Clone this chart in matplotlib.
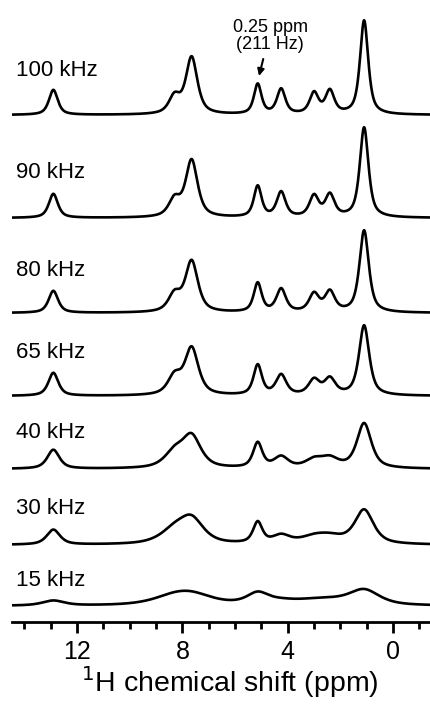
import numpy as np
import matplotlib.pyplot as plt

plt.rcParams['font.family'] = ['Liberation Sans', 'DejaVu Sans']

# spinning rates, top to bottom
labels = ['100 kHz', '90 kHz', '80 kHz', '65 kHz', '40 kHz', '30 kHz', '15 kHz']

# peak centres (ppm)
centres = [12.9, 8.3, 7.65, 5.14, 4.25, 3.0, 2.4, 1.1]

# peak amplitudes (arb. units) for each trace
h100 = [25, 17, 57, 30, 25, 21, 23, 94]
h90 = [24, 17, 57, 31, 25, 21, 22, 90]
h80 = [22, 17, 51, 29, 23, 18, 20, 82]
h65 = [23, 18, 47, 30, 20, 15, 16, 70]
h40 = [19, 15, 31, 25, 11, 8, 9, 45]
h30 = [15, 13, 23, 21, 8, 6, 6, 34]
h15 = [5, 7, 9, 11, 3, 3, 3, 15]

# line widths (FWHM, ppm) for each trace
w100 = [0.40, 0.50, 0.52, 0.34, 0.38, 0.40, 0.40, 0.37]
w90 = [0.41, 0.52, 0.54, 0.35, 0.40, 0.42, 0.42, 0.39]
w80 = [0.43, 0.55, 0.57, 0.36, 0.43, 0.45, 0.45, 0.42]
w65 = [0.45, 0.60, 0.62, 0.38, 0.47, 0.50, 0.50, 0.46]
w40 = [0.55, 0.90, 0.85, 0.42, 0.65, 0.80, 0.80, 0.65]
w30 = [0.60, 1.30, 1.10, 0.42, 0.80, 1.30, 1.30, 0.85]
w15 = [1.00, 2.00, 2.00, 1.00, 1.50, 2.00, 2.00, 1.40]

heights = [h100, h90, h80, h65, h40, h30, h15]
widths = [w100, w90, w80, w65, w40, w30, w15]

# vertical offsets of the baselines (pixels above the x axis)
offsets = [507, 404, 309, 226, 153, 77, 16]
label_dy = [45, 45, 42, 43, 37, 37, 26]


def lineshape(x, c, h, w):
    # mostly lorentzian with a bit of gaussian
    g = 0.5*w
    lor = 1.0/(1.0 + ((x - c)/g)**2)
    gau = np.exp(-np.log(2)*((x - c)/g)**2)
    return h*(0.7*lor + 0.3*gau)


ppm = np.linspace(14.5, -1.5, 2000)

fig = plt.figure(figsize=(4.31, 7.06), dpi=100)
ax = fig.add_axes([12/431, 84/706, 419/431, 622/706])

for lab, hs, ws, off, dy in zip(labels, heights, widths, offsets, label_dy):
    y = np.zeros_like(ppm)
    for c, h, w in zip(centres, hs, ws):
        y += lineshape(ppm, c, h, w)
    ax.plot(ppm, y + off, color='black', lw=1.9)
    ax.text(14.3, off + dy, lab, fontsize=16, ha='left', va='center')

ax.text(4.66, 586, '0.25 ppm\n(211 Hz)', ha='center', va='center',
        fontsize=13, linespacing=1.05)
ax.annotate('', xy=(5.09, 546), xytext=(4.93, 563),
            arrowprops=dict(arrowstyle='-|>', color='black', lw=1.5,
                            shrinkA=0, shrinkB=0, mutation_scale=10))

ax.set_xlim(14.47, -1.44)
ax.set_ylim(0, 622)
for s in ['left', 'right', 'top']:
    ax.spines[s].set_visible(False)
ax.spines['bottom'].set_linewidth(2)
ax.set_yticks([])
ax.set_xticks([12, 8, 4, 0])
ax.set_xticks(np.arange(14, -2, -1), minor=True)
ax.tick_params(axis='x', which='major', length=8, width=2, labelsize=18, pad=5)
ax.tick_params(axis='x', which='minor', length=5, width=2)
ax.set_xlabel('$^{1}$H chemical shift (ppm)', fontsize=20.5, labelpad=0)
ax.xaxis.label.set_x(0.52)

plt.savefig('out.png', dpi=100)
